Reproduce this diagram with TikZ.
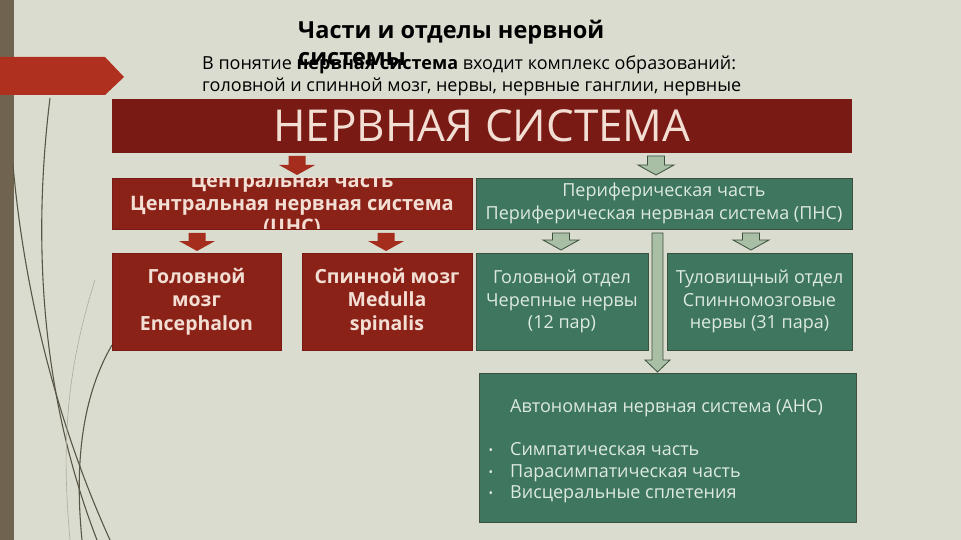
\documentclass[tikz,border=0pt]{standalone}
\usepackage{fontspec}
\setmainfont{Open Sans}
\usetikzlibrary{calc}
\definecolor{bg}{RGB}{219,220,208}
\definecolor{stripc}{RGB}{112,100,80}
\definecolor{tabc}{RGB}{176,48,32}
\definecolor{bannerc}{RGB}{122,26,20}
\definecolor{redboxc}{RGB}{138,34,24}
\definecolor{redarrc}{RGB}{165,45,30}
\definecolor{greenboxc}{RGB}{62,118,96}
\definecolor{greenarrc}{RGB}{168,190,165}
\definecolor{greenlinec}{RGB}{60,80,62}
\definecolor{redtxt}{RGB}{243,222,212}
\definecolor{greentxt}{RGB}{222,234,224}
\definecolor{wispc}{RGB}{88,86,70}
\newcommand\blockarrow[6]{%
  \path[#1] let \p1=(#2), \p2=(#3) in
   (\x1-#4,\y1) -- (\x1+#4,\y1) -- (\x1+#4,\y2+#6) -- (\x1+#5,\y2+#6)
   -- (\x1,\y2) -- (\x1-#5,\y2+#6) -- (\x1-#4,\y2+#6) -- cycle;}
\tikzset{
  boxbase/.style={anchor=north west, inner sep=0pt, outer sep=0pt, align=center},
  redbox/.style={boxbase, fill=redboxc, draw=bannerc, line width=0.6pt, text=redtxt,
     font=\fontsize{19.5}{23.5}\selectfont\bfseries},
  greenbox/.style={boxbase, fill=greenboxc, draw=greenlinec, line width=0.6pt, text=greentxt,
     font=\fontsize{18}{22.5}\selectfont},
  redarr/.style={fill=redarrc},
  greenarr/.style={fill=greenarrc, draw=greenlinec, line width=0.8pt},
  wisp/.style={draw=wispc, line width=1.1pt},
  lineleft/.style={anchor=base west, inner sep=0pt},
  anstext/.style={lineleft, text=greentxt, font=\fontsize{18}{21}\selectfont},
}
\begin{document}
\begin{tikzpicture}[x=1pt,y=-1pt]
\useasboundingbox (0,0) rectangle (961,540);
\fill[bg] (0,0) rectangle (961,540);
% left strip and decorative lines
\fill[stripc] (0,0) rectangle (14,540);
\draw[wisp] (13,165) .. controls (25,300) and (60,430) .. (110,540);
\draw[wisp] (50,98) .. controls (35,220) and (35,380) .. (97,540);
\draw[wisp] (112,345) .. controls (80,400) and (75,470) .. (82,540);
\draw[wispc!50, line width=0.6pt] (95,280) .. controls (70,360) and (60,430) .. (70,540);
% red tab
\fill[tabc] (0,57) -- (105,57) -- (124,77) -- (105,95) -- (0,95) -- cycle;
% heading texts
\node[lineleft, font=\fontsize{23.5}{28}\selectfont\bfseries] (title1) at (298,39) {Части и отделы нервной};
\node[lineleft, font=\fontsize{23.5}{28}\selectfont\bfseries] (title2) at (298,66) {системы};
\node[lineleft, font=\fontsize{18}{22}\selectfont] (sub1) at (202,70)
  {В понятие \textbf{нервная система} входит комплекс образований:};
\node[lineleft, font=\fontsize{18}{22}\selectfont] (sub2) at (202,92)
  {головной и спинной мозг, нервы, нервные ганглии, нервные};
% banner
\node[boxbase, fill=bannerc, minimum width=740, minimum height=54, text=redtxt,
  font=\fontsize{44}{50}\selectfont] (banner) at (112,99) {НЕРВНАЯ СИСТЕМА};
% level 1
\node[redbox, minimum width=360, minimum height=51] (cns) at (112,178) {};
\begin{scope}
\clip (cns.south west) rectangle (cns.north east);
\node[inner sep=0pt, align=center, text=redtxt, font=\fontsize{20}{23}\selectfont\bfseries] (cnstext) at ($(cns.center)+(0,2)$)
  {Центральная часть\\Центральная нервная система\\(ЦНС)};
\end{scope}
\node[greenbox, minimum width=376, minimum height=51] (pns) at (476,178)
  {Периферическая часть\\Периферическая нервная система (ПНС)};
% level 2
\node[redbox, minimum width=169, minimum height=97] (brain) at (112,253) {Головной\\мозг\\Encephalon};
\node[redbox, minimum width=170, minimum height=97] (spinal) at (302,253) {Спинной мозг\\Medulla\\spinalis};
\node[greenbox, minimum width=172, minimum height=97] (head) at (476,253) {Головной отдел\\Черепные нервы\\(12 пар)};
\node[greenbox, minimum width=185, minimum height=97] (trunk) at (667,253) {Туловищный отдел\\Спинномозговые\\нервы (31 пара)};
% ANS box
\node[greenbox, minimum width=377, minimum height=149] (ans) at (479,373) {};
\node[anstext] (ans0) at (510,412) {Автономная нервная система (АНС)};
\node[anstext] (ans1) at (510,455) {Симпатическая часть};
\node[anstext] (ans2) at (510,477) {Парасимпатическая часть};
\node[anstext] (ans3) at (510,498) {Висцеральные сплетения};
\foreach \n in {ans1,ans2,ans3}
  \node[anchor=base, inner sep=0pt, text=greentxt, font=\fontsize{12}{14}\selectfont] at ($(\n.base west)+(-19,-1)$) {•};
% arrow reference x positions
\coordinate (xa) at (297,0);
\coordinate (xb) at (656,0);
\coordinate (xc) at (197,0);
\coordinate (xd) at (386,0);
\coordinate (xe) at (561,0);
\coordinate (xf) at (751,0);
\coordinate (xg) at (657.5,0);
\blockarrow{redarr}{$(banner.south -| xa)+(0,3)$}{$(cns.north -| xa)+(0,-3)$}{8.5pt}{18pt}{10pt}
\blockarrow{greenarr}{$(banner.south -| xb)+(0,3)$}{$(pns.north -| xb)+(0,-3)$}{8.5pt}{18pt}{10pt}
\blockarrow{redarr}{$(cns.south -| xc)+(0,4)$}{$(brain.north -| xc)+(0,-2)$}{8.5pt}{18pt}{10pt}
\blockarrow{redarr}{$(cns.south -| xd)+(0,4)$}{$(spinal.north -| xd)+(0,-2)$}{8.5pt}{18pt}{10pt}
\blockarrow{greenarr}{$(pns.south -| xe)+(0,4)$}{$(head.north -| xe)+(0,-3)$}{8.5pt}{18pt}{10pt}
\blockarrow{greenarr}{$(pns.south -| xf)+(0,4)$}{$(trunk.north -| xf)+(0,-3)$}{8.5pt}{18pt}{10pt}
\blockarrow{greenarr}{$(pns.south -| xg)+(0,4)$}{$(ans.north -| xg)+(0,-1)$}{5.5pt}{12.5pt}{12pt}
\end{tikzpicture}
\end{document}
